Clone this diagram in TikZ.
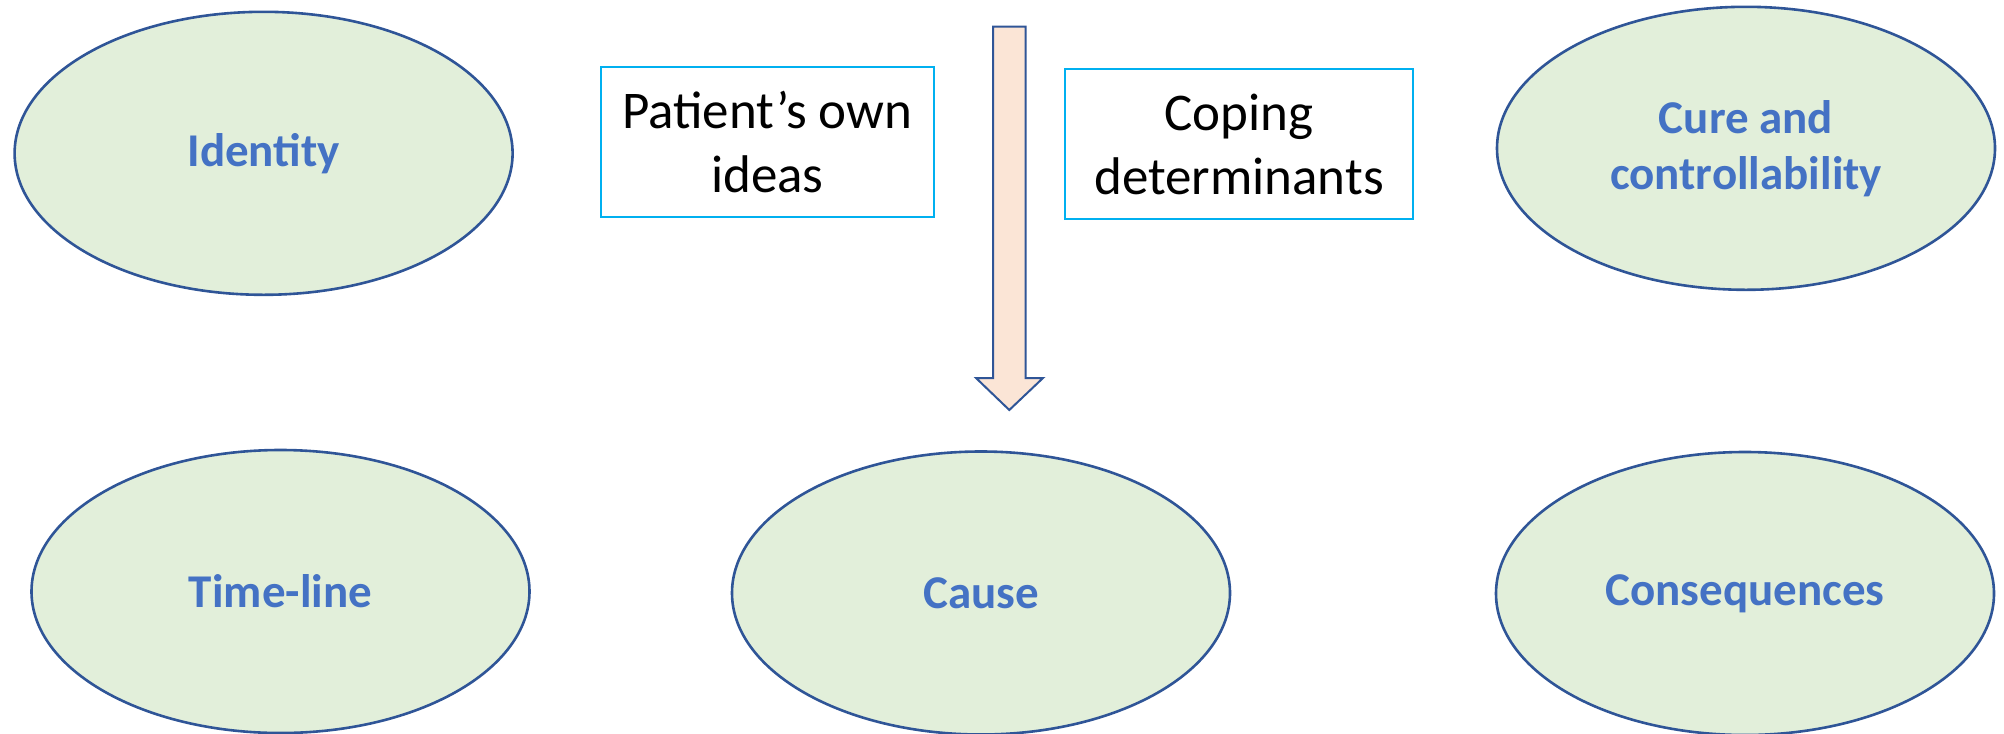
\documentclass[tikz,border=0pt]{standalone}
\usepackage{fontspec}
\setmainfont{Carlito}
\usetikzlibrary{shapes.geometric}
\definecolor{ellfill}{HTML}{E2EFDA}
\definecolor{ellline}{HTML}{2F5597}
\definecolor{elltext}{HTML}{4472C4}
\definecolor{boxline}{HTML}{00B0F0}
\definecolor{arrfill}{HTML}{FBE5D6}
\tikzset{
  oval/.style={ellipse, draw=ellline, fill=ellfill, line width=1.3pt,
    minimum width=249pt, minimum height=141.5pt, inner sep=0pt, outer sep=0pt,
    text=elltext, font=\fontsize{23.5}{28}\selectfont\bfseries, align=center},
  idea/.style={rectangle, draw=boxline, line width=1pt, inner sep=0pt, outer sep=0pt,
    minimum height=75pt, font=\fontsize{26.5}{32}\selectfont, align=center},
  bigarrow/.style={draw=ellline, fill=arrfill, line width=1pt, line join=miter}
}
\begin{document}
\begin{tikzpicture}[x=0.5pt, y=-0.5pt]
\useasboundingbox (0,0) rectangle (2004,734);
% ovals
\node[oval] (identity) at (263.6,153.3) {Identity};
\node[oval] (cure) at (1746,148.3) {Cure and\\controllability};
\node[oval] (timeline) at (280.5,591.5) {Time-line};
\node[oval] (cause) at (981,593) {Cause};
\node[oval] (conseq) at (1745,593.5) {Consequences};
% boxes
\node[idea, minimum width=166.7pt] (patient) at (767.3,142) {Patient’s own\\ideas};
\node[idea, minimum width=174pt] (coping) at (1239,144) {Coping\\determinants};
% arrow
\coordinate (a1) at (993,26.7);
\coordinate (a2) at (1025.5,26.7);
\coordinate (a3) at (1025.5,378);
\coordinate (a4) at (1043,378);
\coordinate (tip) at (1009.3,410);
\coordinate (a6) at (976,378);
\coordinate (a7) at (993,378);
\draw[bigarrow] (a1) -- (a2) -- (a3) -- (a4) -- (tip) -- (a6) -- (a7) -- cycle;
\end{tikzpicture}
\end{document}
